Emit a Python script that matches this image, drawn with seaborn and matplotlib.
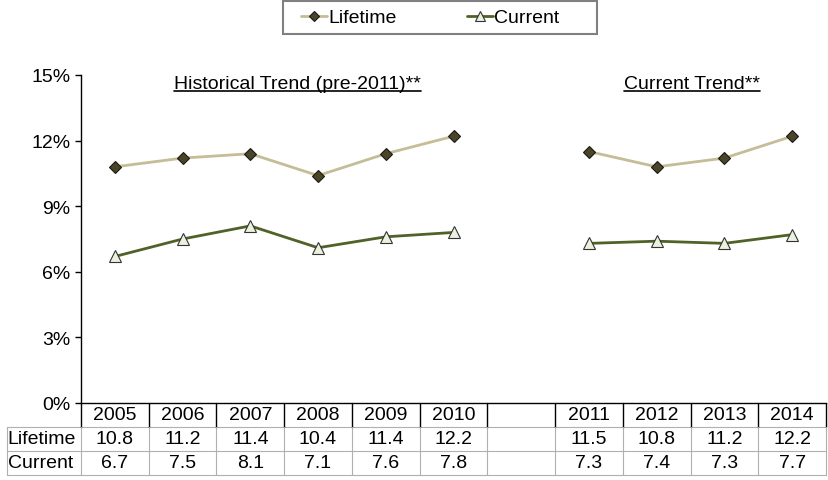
"""
Lifetime vs current trend line chart with a data table underneath
"""

import matplotlib.pyplot as plt
import matplotlib.transforms as mtransforms
from matplotlib.patches import Rectangle
from matplotlib.ticker import PercentFormatter
import seaborn as sns
import pandas as pd
import numpy as np

# Data ("" is the empty gap column between the two trends)
years = ["2005", "2006", "2007", "2008", "2009", "2010", "", "2011", "2012", "2013", "2014"]
lifetime = [10.8, 11.2, 11.4, 10.4, 11.4, 12.2, np.nan, 11.5, 10.8, 11.2, 12.2]
current = [6.7, 7.5, 8.1, 7.1, 7.6, 7.8, np.nan, 7.3, 7.4, 7.3, 7.7]
segment = [0, 0, 0, 0, 0, 0, -1, 1, 1, 1, 1]
yticks = [0, 3, 6, 9, 12, 15]

sns.set_theme(style="white")
plt.rcParams["font.family"] = ["Liberation Sans", "DejaVu Sans"]
plt.rcParams["text.color"] = "black"
plt.rcParams["ytick.color"] = "black"

FS = 14

pos = np.arange(len(years))
df = pd.DataFrame({"pos": pos, "segment": segment,
                   "Lifetime": lifetime, "Current": current})
long_df = df.melt(id_vars=["pos", "segment"], var_name="series", value_name="value")
long_df = long_df.dropna()
long_df["value"] = long_df["value"] / 100

fig = plt.figure(figsize=(8.29, 4.81), dpi=100)
ax = fig.add_axes([81 / 829, 1 - 404 / 481, (826 - 81) / 829, (404 - 76) / 481])

styles = {
    "Lifetime": dict(color="#C4BD97", marker="D", markerfacecolor="#4A452A",
                     markeredgecolor="#1c1a10", markersize=6.5),
    "Current": dict(color="#4F6228", marker="^", markerfacecolor="#EBF1DE",
                    markeredgecolor="#333333", markersize=9),
}
for name, st in styles.items():
    sub = long_df[long_df["series"] == name]
    sns.lineplot(data=sub, x="pos", y="value", units="segment", estimator=None,
                 ax=ax, linewidth=2, markeredgewidth=0.8, label=name, **st)

ax.set_xlim(-0.5, len(years) - 0.5)
ax.set_ylim(0, 0.15)
ax.set_yticks([t / 100 for t in yticks])
ax.yaxis.set_major_formatter(PercentFormatter(1.0, decimals=0))
ax.tick_params(axis="y", which="both", left=True, length=4.5, width=1, color="black",
               labelsize=FS, pad=3, labelcolor="black")
ax.set_xticks([])
ax.set_xlabel("")
ax.set_ylabel("")
for s in ["top", "right"]:
    ax.spines[s].set_visible(False)
for s in ["left", "bottom"]:
    ax.spines[s].set_color("black")
    ax.spines[s].set_linewidth(1)

# section titles, underlined
titles = [(2.70, "Historical Trend (pre-2011)**"), (8.52, "Current Trend**")]
title_txt = []
for xc, t in titles:
    title_txt.append(ax.text(xc, 0.1441, t, ha="center", va="baseline", fontsize=FS))
fig.canvas.draw()
inv = ax.transData.inverted()
for t in title_txt:
    bb = t.get_window_extent()
    x0 = inv.transform((bb.x0, bb.y0))[0]
    x1 = inv.transform((bb.x1, bb.y0))[0]
    ax.plot([x0, x1], [0.1425, 0.1425], color="black", linewidth=1.2, clip_on=False)

# data table below the axis
trans = mtransforms.blended_transform_factory(ax.transData, fig.transFigure)
row_h = 24 / 481
top = 1 - 404 / 481
rows = [("", years), ("Lifetime", lifetime), ("Current", current)]
xl = -0.5 - 74 / 67.7
for r, (label, vals) in enumerate(rows):
    yc = top - (r + 0.5) * row_h
    if label:
        ax.text(xl + 0.01, yc, label, ha="left", va="center", fontsize=FS,
                transform=trans)
    for i, v in enumerate(vals):
        if isinstance(v, str):
            txt = v
        elif np.isnan(v):
            txt = ""
        else:
            txt = f"{v:.1f}"
        ax.text(pos[i], yc, txt, ha="center", va="center", fontsize=FS,
                transform=trans)

# grid lines of the table
grey = "#b0b0b0"
for r in range(1, 4):
    yb = top - r * row_h
    ax.plot([xl, len(years) - 0.5], [yb, yb], color=grey, lw=0.8,
            transform=trans, clip_on=False)
for i in range(len(years) + 1):
    xb = i - 0.5
    ax.plot([xb, xb], [top, top - row_h], color="black", lw=1,
            transform=trans, clip_on=False)
    ax.plot([xb, xb], [top - row_h, top - 3 * row_h], color=grey, lw=0.8,
            transform=trans, clip_on=False)
ax.plot([xl, xl], [top - row_h, top - 3 * row_h], color=grey, lw=0.8,
        transform=trans, clip_on=False)

# legend, one entry per series, in an Excel-like box
handles, labels = ax.get_legend_handles_labels()
uniq = dict(zip(labels, handles))
ax.get_legend().remove()
fig.legend(list(uniq.values()), list(uniq.keys()), loc="center",
           bbox_to_anchor=(430 / 829, 1 - 18.5 / 481), ncol=2, frameon=False,
           fontsize=FS, handlelength=1.35, handletextpad=0.05, columnspacing=3.6,
           borderpad=0, borderaxespad=0, markerscale=0.8)
fig.patches.append(Rectangle((283 / 829, 1 - 35 / 481), 314 / 829, 33 / 481,
                             transform=fig.transFigure, fill=False,
                             edgecolor="#808080", linewidth=1.5))

plt.savefig("out.png", dpi=100)
